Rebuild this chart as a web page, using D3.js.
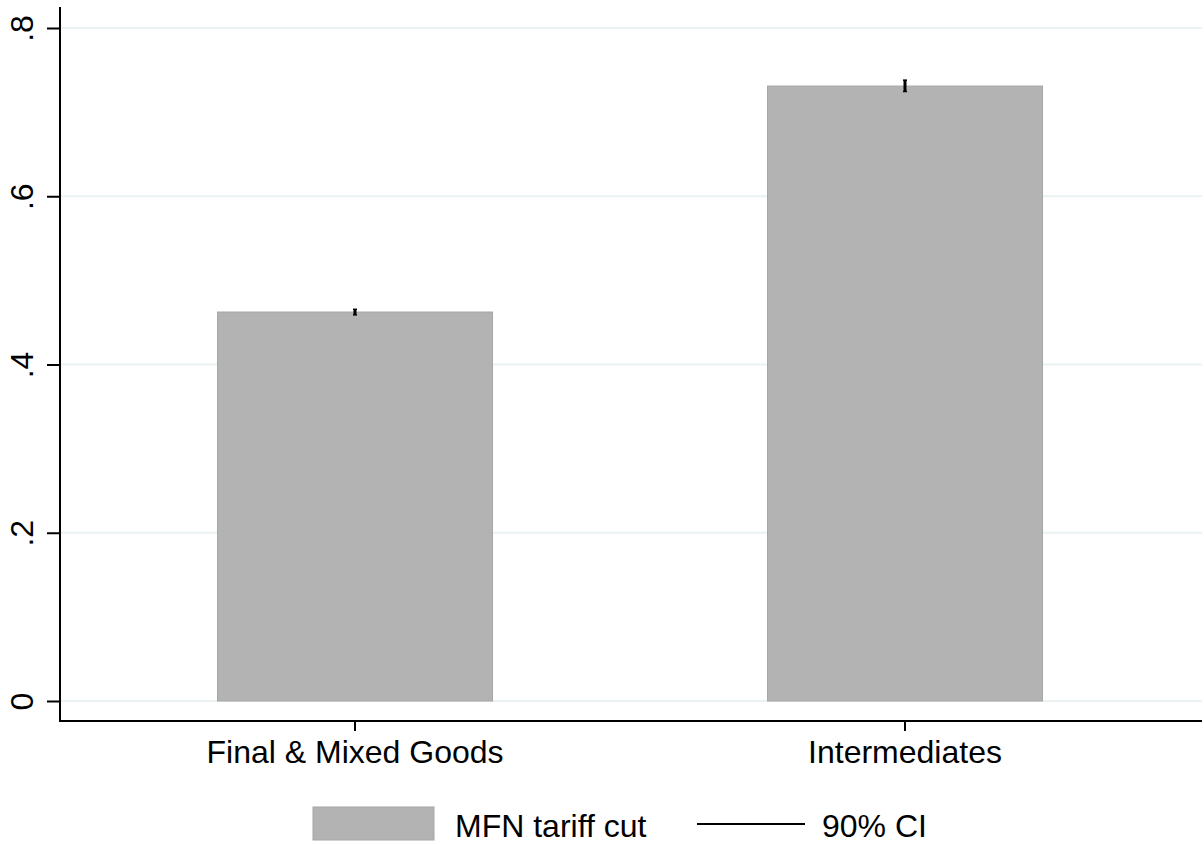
<!DOCTYPE html>
<html><head><meta charset="utf-8">
<script src="https://cdn.jsdelivr.net/npm/d3@7"></script>
<style>body{margin:0;background:#fff}svg{display:block}text{font-family:"Liberation Sans",Arial,Helvetica,sans-serif;fill:#000}</style>
</head><body>
<script>
const categories = ["Final & Mixed Goods", "Intermediates"];
const values = [0.4624, 0.731];
const ciLow = [0.459, 0.7245];
const ciHigh = [0.4656, 0.738];
const yTicks = [0, 0.2, 0.4, 0.6, 0.8];
const yTickLabels = ["0", ".2", ".4", ".6", ".8"];
const legendLabels = ["MFN tariff cut", "90% CI"];

(function () {
const W = 1204, H = 844;
const svg = d3.select("body").append("svg").attr("width", W).attr("height", H);
const pLeft = 60, pTop = 7, axisY = 721;
const y = d3.scaleLinear().domain([0, 0.8]).range([701, 28]);
const x = d3.scaleBand().domain(categories).range([80, 1180]).paddingInner(0.5).paddingOuter(0.25);

// gridlines
svg.append("g").selectAll("line").data(yTicks).join("line")
  .attr("x1", pLeft).attr("x2", 1202).attr("y1", d => y(d)).attr("y2", d => y(d))
  .attr("stroke", "#eaf2f3").attr("stroke-width", 2);

// bars
svg.append("g").selectAll("rect").data(values).join("rect")
  .attr("x", (d, i) => x(categories[i])).attr("width", x.bandwidth())
  .attr("y", d => y(d)).attr("height", d => y(0) - y(d))
  .attr("fill", "#b3b3b3").attr("stroke", "#a6a6a6").attr("stroke-width", 1);

// CI
const ci = svg.append("g");
categories.forEach((c, i) => {
  const cx = x(c) + x.bandwidth() / 2;
  ci.append("line").attr("x1", cx).attr("x2", cx).attr("y1", y(ciLow[i])).attr("y2", y(ciHigh[i])).attr("stroke", "#000").attr("stroke-width", 3);
  [ciLow[i], ciHigh[i]].forEach(v => ci.append("line").attr("x1", cx - 2).attr("x2", cx + 2).attr("y1", y(v)).attr("y2", y(v)).attr("stroke", "#000").attr("stroke-width", 1.5));
});

// y axis
const yAxis = d3.axisLeft(y).tickValues(yTicks).tickFormat((d, i) => yTickLabels[i]).tickSize(13).tickPadding(10);
const gy = svg.append("g").attr("transform", `translate(${pLeft},0)`).call(yAxis);
gy.select(".domain").remove();
gy.selectAll(".tick line").attr("stroke", "#000").attr("stroke-width", 2);
gy.selectAll(".tick text").attr("font-size", 32).attr("text-anchor", "middle")
  .attr("x", 0).attr("y", 0)
  .attr("transform", "translate(-38,0) rotate(-90)").attr("dy", "0.35em");
svg.append("line").attr("x1", pLeft).attr("x2", pLeft).attr("y1", pTop).attr("y2", axisY + 1).attr("stroke", "#000").attr("stroke-width", 2);

// x axis
const gx = svg.append("g").attr("transform", `translate(0,${axisY})`).call(d3.axisBottom(x).tickSize(10).tickPadding(9));
gx.select(".domain").remove();
gx.selectAll(".tick line").attr("stroke", "#000").attr("stroke-width", 2);
gx.selectAll(".tick text").attr("font-size", 32);
svg.append("line").attr("x1", pLeft - 1).attr("x2", 1202).attr("y1", axisY).attr("y2", axisY).attr("stroke", "#000").attr("stroke-width", 2);

// legend
const lg = svg.append("g");
lg.append("rect").attr("x", 313).attr("y", 807).attr("width", 121).attr("height", 33).attr("fill", "#b3b3b3").attr("stroke", "#a6a6a6");
lg.append("text").attr("x", 455).attr("y", 837).attr("font-size", 32).text(legendLabels[0]);
lg.append("line").attr("x1", 697).attr("x2", 805).attr("y1", 824).attr("y2", 824).attr("stroke", "#000").attr("stroke-width", 2);
lg.append("text").attr("x", 822).attr("y", 837).attr("font-size", 32).text(legendLabels[1]);
})();
</script>
</body></html>
